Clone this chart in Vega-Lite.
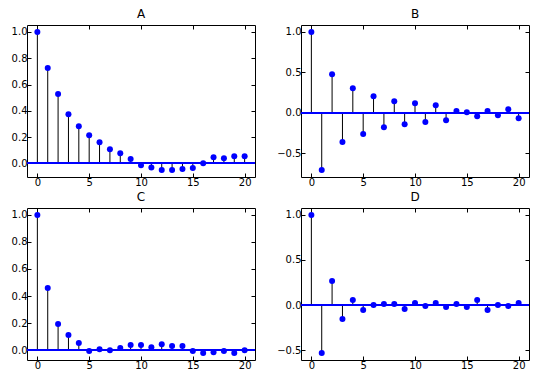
{
  "$schema": "https://vega.github.io/schema/vega-lite/v6.json",
  "padding": {"left": 10, "top": 7, "right": 5, "bottom": 5},
  "background": "white",
  "datasets": {
    "acf": [
      {"panel": "A", "lag": 0, "value": 1.0}, {"panel": "A", "lag": 1, "value": 0.725}, {"panel": "A", "lag": 2, "value": 0.527}, {"panel": "A", "lag": 3, "value": 0.374}, {"panel": "A", "lag": 4, "value": 0.282}, {"panel": "A", "lag": 5, "value": 0.214}, {"panel": "A", "lag": 6, "value": 0.16}, {"panel": "A", "lag": 7, "value": 0.107}, {"panel": "A", "lag": 8, "value": 0.076}, {"panel": "A", "lag": 9, "value": 0.033}, {"panel": "A", "lag": 10, "value": -0.015}, {"panel": "A", "lag": 11, "value": -0.031}, {"panel": "A", "lag": 12, "value": -0.051}, {"panel": "A", "lag": 13, "value": -0.051}, {"panel": "A", "lag": 14, "value": -0.043}, {"panel": "A", "lag": 15, "value": -0.036}, {"panel": "A", "lag": 16, "value": 0.0}, {"panel": "A", "lag": 17, "value": 0.046}, {"panel": "A", "lag": 18, "value": 0.038}, {"panel": "A", "lag": 19, "value": 0.053}, {"panel": "A", "lag": 20, "value": 0.053},
      {"panel": "B", "lag": 0, "value": 1.0}, {"panel": "B", "lag": 1, "value": -0.708}, {"panel": "B", "lag": 2, "value": 0.477}, {"panel": "B", "lag": 3, "value": -0.362}, {"panel": "B", "lag": 4, "value": 0.305}, {"panel": "B", "lag": 5, "value": -0.263}, {"panel": "B", "lag": 6, "value": 0.206}, {"panel": "B", "lag": 7, "value": -0.177}, {"panel": "B", "lag": 8, "value": 0.144}, {"panel": "B", "lag": 9, "value": -0.14}, {"panel": "B", "lag": 10, "value": 0.119}, {"panel": "B", "lag": 11, "value": -0.115}, {"panel": "B", "lag": 12, "value": 0.095}, {"panel": "B", "lag": 13, "value": -0.091}, {"panel": "B", "lag": 14, "value": 0.021}, {"panel": "B", "lag": 15, "value": 0.008}, {"panel": "B", "lag": 16, "value": -0.041}, {"panel": "B", "lag": 17, "value": 0.021}, {"panel": "B", "lag": 18, "value": -0.029}, {"panel": "B", "lag": 19, "value": 0.045}, {"panel": "B", "lag": 20, "value": -0.066},
      {"panel": "C", "lag": 0, "value": 1.0}, {"panel": "C", "lag": 1, "value": 0.459}, {"panel": "C", "lag": 2, "value": 0.193}, {"panel": "C", "lag": 3, "value": 0.111}, {"panel": "C", "lag": 4, "value": 0.052}, {"panel": "C", "lag": 5, "value": -0.007}, {"panel": "C", "lag": 6, "value": 0.007}, {"panel": "C", "lag": 7, "value": 0.0}, {"panel": "C", "lag": 8, "value": 0.015}, {"panel": "C", "lag": 9, "value": 0.037}, {"panel": "C", "lag": 10, "value": 0.037}, {"panel": "C", "lag": 11, "value": 0.022}, {"panel": "C", "lag": 12, "value": 0.044}, {"panel": "C", "lag": 13, "value": 0.03}, {"panel": "C", "lag": 14, "value": 0.03}, {"panel": "C", "lag": 15, "value": -0.007}, {"panel": "C", "lag": 16, "value": -0.022}, {"panel": "C", "lag": 17, "value": -0.015}, {"panel": "C", "lag": 18, "value": -0.007}, {"panel": "C", "lag": 19, "value": -0.022}, {"panel": "C", "lag": 20, "value": 0.0},
      {"panel": "D", "lag": 0, "value": 1.0}, {"panel": "D", "lag": 1, "value": -0.533}, {"panel": "D", "lag": 2, "value": 0.267}, {"panel": "D", "lag": 3, "value": -0.156}, {"panel": "D", "lag": 4, "value": 0.056}, {"panel": "D", "lag": 5, "value": -0.056}, {"panel": "D", "lag": 6, "value": 0.0}, {"panel": "D", "lag": 7, "value": 0.011}, {"panel": "D", "lag": 8, "value": 0.011}, {"panel": "D", "lag": 9, "value": -0.044}, {"panel": "D", "lag": 10, "value": 0.022}, {"panel": "D", "lag": 11, "value": -0.011}, {"panel": "D", "lag": 12, "value": 0.022}, {"panel": "D", "lag": 13, "value": -0.022}, {"panel": "D", "lag": 14, "value": 0.011}, {"panel": "D", "lag": 15, "value": -0.022}, {"panel": "D", "lag": 16, "value": 0.056}, {"panel": "D", "lag": 17, "value": -0.056}, {"panel": "D", "lag": 18, "value": 0.0}, {"panel": "D", "lag": 19, "value": -0.011}, {"panel": "D", "lag": 20, "value": 0.022}
    ]
  },
  "columns": 2,
  "spacing": {"row": 31, "column": 46},
  "bounds": "flush",
  "concat": [
    {
      "title": {"text": "A"},
      "width": 228, "height": 152,
      "data": {"name": "acf"},
      "transform": [{"filter": "datum.panel === 'A'"}],
      "layer": [
        {"mark": {"type": "rule", "color": "black", "strokeWidth": 1},
         "encoding": {
           "x": {"field": "lag", "type": "quantitative", "scale": {"domain": [-1, 21], "nice": false, "zero": false}, "axis": {"orient": "bottom", "values": [0, 5, 10, 15, 20]}},
           "y": {"field": "value", "type": "quantitative", "scale": {"domain": [-0.104, 1.053], "nice": false, "zero": false}, "axis": {"orient": "left", "values": [0, 0.2, 0.4, 0.6, 0.8, 1.0], "format": ".1f"}},
           "y2": {"datum": 0}}},
        {"mark": {"type": "rule", "color": "#0000ff", "strokeWidth": 1.2},
         "encoding": {"y": {"datum": 0, "axis": null}}},
        {"mark": {"type": "point", "filled": true, "color": "#0000ff", "opacity": 1, "size": 36},
         "encoding": {
           "x": {"field": "lag", "type": "quantitative", "scale": {"domain": [-1, 21], "nice": false, "zero": false}, "axis": {"orient": "top", "labels": false, "values": [0, 5, 10, 15, 20]}},
           "y": {"field": "value", "type": "quantitative", "scale": {"domain": [-0.104, 1.053], "nice": false, "zero": false}, "axis": {"orient": "right", "labels": false, "values": [0, 0.2, 0.4, 0.6, 0.8, 1.0]}}}}
      ],
      "resolve": {"axis": {"x": "independent", "y": "independent"}}
    },
    {
      "title": {"text": "B"},
      "width": 228, "height": 152,
      "data": {"name": "acf"},
      "transform": [{"filter": "datum.panel === 'B'"}],
      "layer": [
        {"mark": {"type": "rule", "color": "black", "strokeWidth": 1},
         "encoding": {
           "x": {"field": "lag", "type": "quantitative", "scale": {"domain": [-1, 21], "nice": false, "zero": false}, "axis": {"orient": "bottom", "values": [0, 5, 10, 15, 20]}},
           "y": {"field": "value", "type": "quantitative", "scale": {"domain": [-0.793, 1.085], "nice": false, "zero": false}, "axis": {"orient": "left", "values": [-0.5, 0, 0.5, 1.0], "format": ".1f"}},
           "y2": {"datum": 0}}},
        {"mark": {"type": "rule", "color": "#0000ff", "strokeWidth": 1.2},
         "encoding": {"y": {"datum": 0, "axis": null}}},
        {"mark": {"type": "point", "filled": true, "color": "#0000ff", "opacity": 1, "size": 36},
         "encoding": {
           "x": {"field": "lag", "type": "quantitative", "scale": {"domain": [-1, 21], "nice": false, "zero": false}, "axis": {"orient": "top", "labels": false, "values": [0, 5, 10, 15, 20]}},
           "y": {"field": "value", "type": "quantitative", "scale": {"domain": [-0.793, 1.085], "nice": false, "zero": false}, "axis": {"orient": "right", "labels": false, "values": [-0.5, 0, 0.5, 1.0]}}}}
      ],
      "resolve": {"axis": {"x": "independent", "y": "independent"}}
    },
    {
      "title": {"text": "C"},
      "width": 228, "height": 152,
      "data": {"name": "acf"},
      "transform": [{"filter": "datum.panel === 'C'"}],
      "layer": [
        {"mark": {"type": "rule", "color": "black", "strokeWidth": 1},
         "encoding": {
           "x": {"field": "lag", "type": "quantitative", "scale": {"domain": [-1, 21], "nice": false, "zero": false}, "axis": {"orient": "bottom", "values": [0, 5, 10, 15, 20]}},
           "y": {"field": "value", "type": "quantitative", "scale": {"domain": [-0.073, 1.051], "nice": false, "zero": false}, "axis": {"orient": "left", "values": [0, 0.2, 0.4, 0.6, 0.8, 1.0], "format": ".1f"}},
           "y2": {"datum": 0}}},
        {"mark": {"type": "rule", "color": "#0000ff", "strokeWidth": 1.2},
         "encoding": {"y": {"datum": 0, "axis": null}}},
        {"mark": {"type": "point", "filled": true, "color": "#0000ff", "opacity": 1, "size": 36},
         "encoding": {
           "x": {"field": "lag", "type": "quantitative", "scale": {"domain": [-1, 21], "nice": false, "zero": false}, "axis": {"orient": "top", "labels": false, "values": [0, 5, 10, 15, 20]}},
           "y": {"field": "value", "type": "quantitative", "scale": {"domain": [-0.073, 1.051], "nice": false, "zero": false}, "axis": {"orient": "right", "labels": false, "values": [0, 0.2, 0.4, 0.6, 0.8, 1.0]}}}}
      ],
      "resolve": {"axis": {"x": "independent", "y": "independent"}}
    },
    {
      "title": {"text": "D"},
      "width": 228, "height": 152,
      "data": {"name": "acf"},
      "transform": [{"filter": "datum.panel === 'D'"}],
      "layer": [
        {"mark": {"type": "rule", "color": "black", "strokeWidth": 1},
         "encoding": {
           "x": {"field": "lag", "type": "quantitative", "scale": {"domain": [-1, 21], "nice": false, "zero": false}, "axis": {"orient": "bottom", "values": [0, 5, 10, 15, 20]}},
           "y": {"field": "value", "type": "quantitative", "scale": {"domain": [-0.61, 1.077], "nice": false, "zero": false}, "axis": {"orient": "left", "values": [-0.5, 0, 0.5, 1.0], "format": ".1f"}},
           "y2": {"datum": 0}}},
        {"mark": {"type": "rule", "color": "#0000ff", "strokeWidth": 1.2},
         "encoding": {"y": {"datum": 0, "axis": null}}},
        {"mark": {"type": "point", "filled": true, "color": "#0000ff", "opacity": 1, "size": 36},
         "encoding": {
           "x": {"field": "lag", "type": "quantitative", "scale": {"domain": [-1, 21], "nice": false, "zero": false}, "axis": {"orient": "top", "labels": false, "values": [0, 5, 10, 15, 20]}},
           "y": {"field": "value", "type": "quantitative", "scale": {"domain": [-0.61, 1.077], "nice": false, "zero": false}, "axis": {"orient": "right", "labels": false, "values": [-0.5, 0, 0.5, 1.0]}}}}
      ],
      "resolve": {"axis": {"x": "independent", "y": "independent"}}
    }
  ],
  "config": {
    "font": "DejaVu Sans",
    "view": {"stroke": "black", "strokeWidth": 1},
    "axis": {"domain": false, "grid": false, "title": null, "tickColor": "black", "tickSize": -4, "tickWidth": 1, "labelFont": "DejaVu Sans", "labelFontSize": 10, "labelColor": "black", "labelPadding": 4, "labelFlush": false, "labelOverlap": false},
    "title": {"font": "DejaVu Sans", "fontSize": 12, "fontWeight": "normal", "color": "black", "anchor": "middle", "offset": 4}
  }
}
